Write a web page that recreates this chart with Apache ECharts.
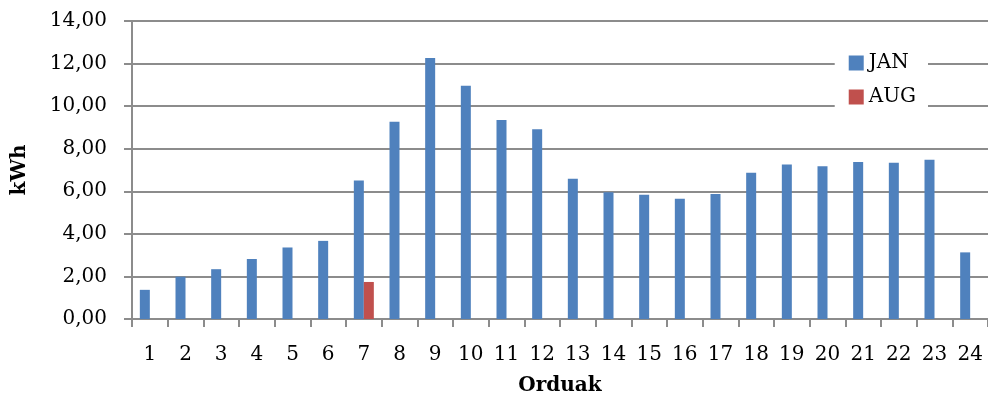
<!DOCTYPE html>
<html>
<head>
<meta charset="utf-8">
<script src="https://cdn.jsdelivr.net/npm/echarts@6/dist/echarts.min.js"></script>
<style>
  html, body { margin: 0; padding: 0; background: #fff; }
  #chart { width: 988px; height: 401px; }
</style>
</head>
<body>
<div id="chart"></div>
<script>
// Hourly energy use, kWh per hour of the day
const hours = ['1','2','3','4','5','6','7','8','9','10','11','12','13','14','15','16','17','18','19','20','21','22','23','24'];
const janValues = [1.37, 1.99, 2.34, 2.82, 3.36, 3.67, 6.51, 9.27, 12.26, 10.96, 9.35, 8.91, 6.59, 5.96, 5.84, 5.65, 5.87, 6.87, 7.26, 7.18, 7.37, 7.34, 7.48, 3.13];
const augValues = [0, 0, 0, 0, 0, 0, 1.74, 0, 0, 0, 0, 0, 0, 0, 0, 0, 0, 0, 0, 0, 0, 0, 0, 0];
const seriesNames = ['JAN', 'AUG'];

const font = 'DejaVu Serif';
const gridColor = '#8c8c8c';

const chart = echarts.init(document.getElementById('chart'), null, { renderer: 'canvas' });
chart.setOption({
  animation: false,
  backgroundColor: '#ffffff',
  grid: { left: 132, right: -5, top: 21, bottom: 81, containLabel: false },
  legend: {
    data: seriesNames,
    orient: 'vertical',
    right: 60,
    top: 49,
    itemWidth: 15,
    itemHeight: 15,
    itemGap: 14,
    backgroundColor: '#ffffff',
    padding: [4, 12, 4, 14],
    icon: 'rect',
    textStyle: { fontFamily: font, fontSize: 20, color: '#000' }
  },
  xAxis: {
    type: 'category',
    data: hours,
    name: 'Orduak',
    nameLocation: 'middle',
    nameGap: 57,
    nameTextStyle: { fontFamily: font, fontSize: 20, fontWeight: 'bold', color: '#000' },
    axisLine: { lineStyle: { color: gridColor, width: 2 } },
    axisTick: { show: true, length: 8, lineStyle: { color: gridColor, width: 2 } },
    axisLabel: { margin: 26, fontFamily: font, fontSize: 20, color: '#000' }
  },
  yAxis: {
    type: 'value',
    min: 0,
    max: 14,
    interval: 2,
    name: 'kWh',
    nameLocation: 'middle',
    nameGap: 102,
    nameTextStyle: { fontFamily: font, fontSize: 20, fontWeight: 'bold', color: '#000' },
    axisLine: { show: true, lineStyle: { color: gridColor, width: 2 } },
    axisTick: { show: true, length: 8, lineStyle: { color: gridColor, width: 2 } },
    splitLine: { lineStyle: { color: gridColor, width: 2 } },
    axisLabel: {
      margin: 25,
      fontFamily: font,
      fontSize: 20,
      color: '#000',
      formatter: v => v.toFixed(2).replace('.', ',')
    }
  },
  series: [
    {
      name: seriesNames[0],
      type: 'bar',
      data: janValues,
      barWidth: 10,
      barGap: '0%',
      itemStyle: { color: '#4f81bd' }
    },
    {
      name: seriesNames[1],
      type: 'bar',
      data: augValues,
      barWidth: 10,
      barGap: '0%',
      itemStyle: { color: '#c0504d' }
    }
  ]
});
</script>
</body>
</html>
